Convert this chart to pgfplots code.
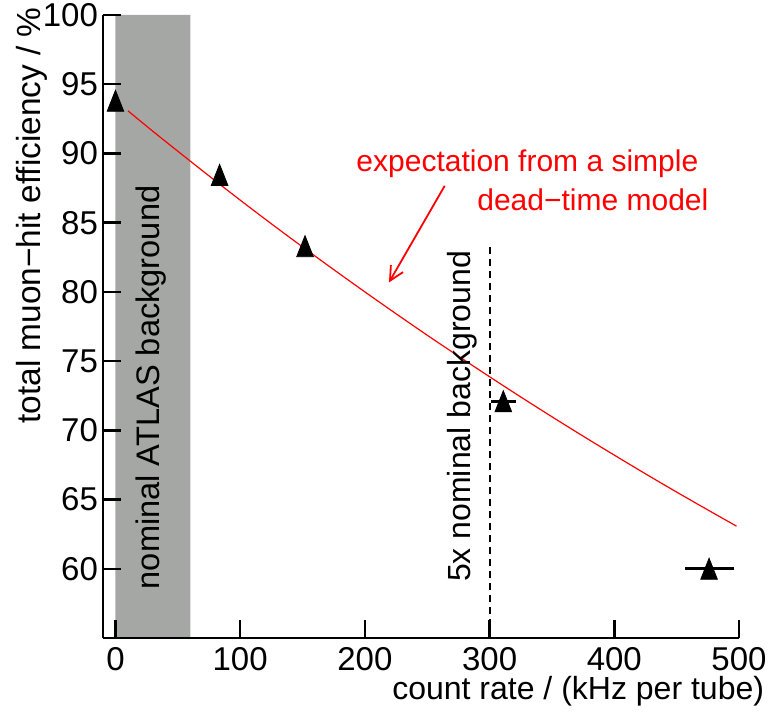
\documentclass[border=0pt]{standalone}
\usepackage{fontspec}
\setmainfont{Liberation Sans}
\usepackage{pgfplots}
\pgfplotsset{compat=1.18}
\usetikzlibrary{calc,arrows.meta}
\definecolor{bandgray}{RGB}{164,167,163}
\begin{document}
\fontsize{16}{19}\selectfont
\begin{tikzpicture}
\begin{axis}[
 scale only axis, width=318pt, height=311.5pt,
 xmin=-10, xmax=500, ymin=55, ymax=100,
 axis x line=bottom, axis y line=left,
 axis line style={-, line width=1.2pt},
 xtick={0,100,...,500}, ytick={60,65,...,100},
 tick align=inside, major tick length=9pt,
 tick style={line width=1.2pt, black},
 /pgf/number format/assume math mode=true,
 ticklabel style={font=\fontsize{16.5}{19}\selectfont},
 yticklabel style={xshift=3pt},
 xticklabel style={yshift=1pt},
 axis on top, clip=false,
]
% nominal background band
\addplot[draw=none, fill=bandgray] coordinates {(0,55) (60,55) (60,100) (0,100)} \closedcycle;
% 5x nominal line
\addplot[black, line width=1pt, dash pattern=on 3.5pt off 2.5pt] coordinates {(300,55) (300,83.4)};
% dead-time model
\addplot[red, line width=0.6pt, smooth] coordinates {
(10,93.08) (30,91.60) (50,90.16) (75,88.38) (100,86.63) (125,84.92) (150,83.25)
(175,81.61) (200,80.00) (225,78.42) (250,76.87) (275,75.36) (300,73.87) (325,72.41)
(350,70.98) (375,69.58) (400,68.21) (425,66.86) (450,65.54) (475,64.25) (498,63.08)};
% measurements
\addplot[only marks, mark=triangle*, mark size=4.8pt, black,
  every mark/.append style={yshift=-1.75pt, yscale=1.46},
  error bars/.cd, x dir=both, x explicit, error mark=none,
  error bar style={line width=1.4pt, black}]
 coordinates {
 (0,93.8) +- (0,0)
 (83.5,88.45) +- (0,0)
 (152,83.3) +- (0,0)
 (311,72.1) +- (9.8,0)
 (476,60.0) +- (19.7,0)
};
\node[font=\fontsize{16.3}{19}\selectfont, rotate=90] at (axis cs:28.5,73.1) {nominal ATLAS background};
\node[font=\fontsize{16}{19}\selectfont, rotate=90] at (axis cs:277.7,71.0) {5x nominal background};
\node[font=\fontsize{15}{18}\selectfont, red] at (axis cs:330.3,89.25) {expectation from a simple};
\node[font=\fontsize{15}{18}\selectfont, red] at (axis cs:382.8,86.65) {dead−time model};
\draw[red, line width=0.9pt, -{Straight Barb[length=7pt,width=7pt]}] (axis cs:264,87.66) -- (axis cs:219.3,80.68);
\node[font=\fontsize{16.7}{19}\selectfont, rotate=90, anchor=east, inner sep=0pt] at (axis description cs:-0.1116,1.013) {total muon−hit efficiency / \%};
\node[font=\fontsize{16}{19}\selectfont, anchor=east, inner sep=0pt] at (axis description cs:1.040,-0.085) {count rate / (kHz per tube)};
\end{axis}
\pgfresetboundingbox
\path ($(current axis.south west)+(-51.5pt,-36.5pt)$) rectangle ($(current axis.north east)+(14.5pt,7.5pt)$);
\end{tikzpicture}
\end{document}
